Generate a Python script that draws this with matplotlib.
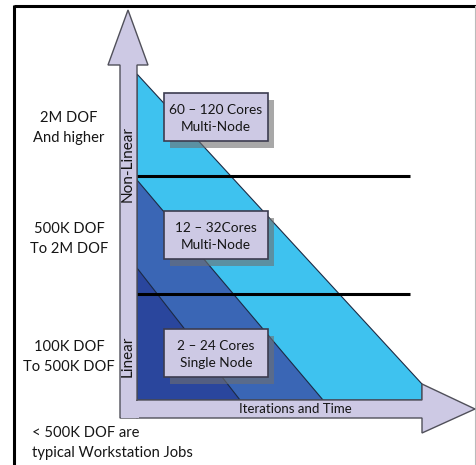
import matplotlib
matplotlib.use("Agg")
import matplotlib.pyplot as plt
from matplotlib.patches import Polygon, Rectangle

plt.rcParams['font.family'] = ['Lato', 'DejaVu Sans']

# problem-size tiers (left side) and the cluster class that serves them
tier_labels = ['2M DOF\nAnd higher', '500K DOF\nTo 2M DOF', '100K DOF\nTo 500K DOF']
tier_label_y = [128, 239, 357]
tier_breaks = [176, 294]

box_labels = ['60 – 120 Cores\nMulti-Node', '12 – 32Cores\nMulti-Node', '2 – 24 Cores\nSingle Node']
box_top = [93, 211, 329]

# wedge for each class: where it starts on the size axis and where it reaches the time axis
wedge_start = [74, 180, 268]
wedge_end = [422, 323, 240]
wedge_colors = ['#3ec2ef', '#3a66b5', '#2a469d']

footnote = '< 500K DOF are\ntypical Workstation Jobs'

LAV = '#cdc9e4'
EDGE = '#50505a'
INK = '#151515'
X0, Y0 = 137, 400          # corner of the two axes
SHAFT = 17

fig = plt.figure(figsize=(4.77, 4.65), dpi=100)
ax = fig.add_axes([0, 0, 1, 1])
ax.set_xlim(0, 477)
ax.set_ylim(465, 0)
ax.axis('off')

# frame
ax.plot([14, 477], [6, 6], color='black', lw=2.2, solid_capstyle='butt')
ax.plot([14, 14], [5, 465], color='black', lw=2.2, solid_capstyle='butt')
ax.plot([475, 475], [6, 465], color='#bbbbbb', lw=0.8)

# wedges
for top, end, c in zip(wedge_start, wedge_end, wedge_colors):
    if end > 400:
        pts = [(X0, top), (end, 384), (end, Y0), (X0, Y0)]
    else:
        pts = [(X0, top), (end, Y0), (X0, Y0)]
    ax.add_patch(Polygon(pts, closed=True, fc=c, ec='#1c2a44', lw=0.8, zorder=2))

# tier separators
for yb in tier_breaks:
    ax.plot([X0, 410], [yb, yb], color='black', lw=2.2, zorder=3, solid_capstyle='butt')

# vertical arrow (size) and horizontal arrow (time)
vert = [(X0 - SHAFT, 418), (X0 - SHAFT, 65), (108, 65), (128, 10), (148, 65),
        (X0, 65), (X0, 418)]
ax.add_patch(Polygon(vert, closed=True, fc=LAV, ec=EDGE, lw=1.0, zorder=4))
horiz = [(X0, Y0), (422, Y0), (422, 384), (475, 409), (422, 433), (422, 418), (X0, 418)]
ax.add_patch(Polygon(horiz, closed=True, fc=LAV, ec=EDGE, lw=1.0, zorder=4))
ax.add_patch(Rectangle((X0 - SHAFT + 0.6, Y0 + 0.6), SHAFT + 1.5, 17, fc=LAV, ec='none', zorder=5))

ax.text(128, 164, 'Non-Linear', rotation=90, ha='center', va='center', fontsize=11,
        color=INK, zorder=6)
ax.text(128, 356, 'Linear', rotation=90, ha='center', va='center', fontsize=11,
        color=INK, zorder=6)
ax.text(295, 409, 'Iterations and Time', ha='center', va='center', fontsize=9.5,
        color=INK, zorder=6)

# class boxes with drop shadow
for lab, top in zip(box_labels, box_top):
    ax.add_patch(Rectangle((170, top + 7), 104, 48, fc='#6f6f6f', ec='none', alpha=0.6, zorder=6))
    ax.add_patch(Rectangle((164, top), 104, 48, fc=LAV, ec='#3c3c50', lw=1.2, zorder=7))
    ax.text(216, top + 25, lab, ha='center', va='center', fontsize=9.8, linespacing=1.5,
            color=INK, zorder=8)

for lab, y in zip(tier_labels, tier_label_y):
    ax.text(69, y, lab, ha='center', va='center', fontsize=10.6, linespacing=1.62, color=INK)

ax.text(32, 443, footnote, ha='left', va='center', fontsize=10.6, linespacing=1.62, color=INK)

fig.savefig('out.png', dpi=100)
